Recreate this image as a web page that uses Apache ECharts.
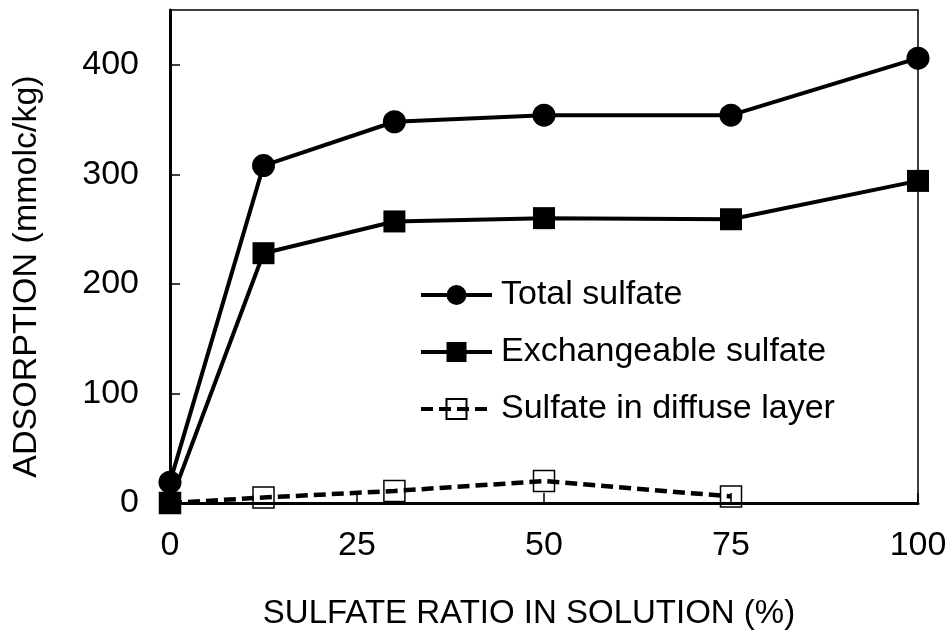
<!DOCTYPE html>
<html>
<head>
<meta charset="utf-8">
<script src="https://cdn.jsdelivr.net/npm/echarts@6/dist/echarts.min.js"></script>
<style>html,body{margin:0;padding:0;background:#fff;}#c{width:951px;height:639px;}</style>
</head>
<body>
<div id="c"></div>
<script>
const ratios = [0, 12.5, 30, 50, 75, 100];
const ratiosDiffuse = [0, 12.5, 30, 50, 75];
const totalSulfate = [19, 308, 348, 354, 354, 406];
const exchangeableSulfate = [0, 228, 257, 260, 259, 294];
const diffuseSulfate = [0, 5, 11, 20, 6];
const seriesNames = ['Total sulfate', 'Exchangeable sulfate', 'Sulfate in diffuse layer'];
const xTicks = [0, 25, 50, 75, 100];
const yTicks = [0, 100, 200, 300, 400];

const pair = (xs, ys) => xs.map((x, i) => [x, ys[i]]);
const tickFont = '"Liberation Sans", Arial, sans-serif';
const textFont = '"Liberation Sans", Arial, sans-serif';

const chart = echarts.init(document.getElementById('c'), null, {renderer: 'canvas'});
chart.setOption({
  animation: false,
  backgroundColor: '#fff',
  grid: {left: 170, right: 33, top: 10, bottom: 136, show: true, borderColor: '#000', borderWidth: 1.5, containLabel: false},
  legend: {
    orient: 'vertical', left: 414, top: 273,
    itemWidth: 71, itemHeight: 25, itemGap: 23,
    data: seriesNames,
    lineStyle: {width: 4},
    textStyle: {fontFamily: textFont, fontSize: 34, color: '#000', lineHeight: 34, padding: [0, 0, 0, 4]}
  },
  xAxis: {
    type: 'value', min: 0, max: 100, interval: 25,
    name: 'SULFATE RATIO IN SOLUTION (%)', nameLocation: 'middle', nameGap: 94,
    nameTextStyle: {fontFamily: textFont, fontSize: 33, color: '#000', padding: [0, 30, 0, 0]},
    axisLine: {lineStyle: {color: '#000', width: 3}},
    axisTick: {inside: true, length: 10, lineStyle: {color: '#000', width: 1.5}},
    axisLabel: {margin: 26, fontFamily: tickFont, fontSize: 34, color: '#000',
      formatter: v => xTicks.includes(v) ? String(v) : ''},
    splitLine: {show: false}
  },
  yAxis: {
    type: 'value', min: 0, max: 450, interval: 100,
    name: 'ADSORPTION (mmolc/kg)', nameLocation: 'middle', nameGap: 126,
    nameTextStyle: {fontFamily: textFont, fontSize: 34, color: '#000', padding: [0, 40, 0, 0]},
    axisLine: {lineStyle: {color: '#000', width: 3}},
    axisTick: {inside: true, length: 10, lineStyle: {color: '#000', width: 1.5}},
    axisLabel: {margin: 31, fontFamily: tickFont, fontSize: 34, color: '#000', showMaxLabel: false,
      formatter: v => yTicks.includes(v) ? String(v) : ''},
    splitLine: {show: false}
  },
  series: [
    {
      name: seriesNames[0], type: 'line', data: pair(ratios, totalSulfate), clip: false,
      symbol: 'circle', symbolSize: 23,
      lineStyle: {color: '#000', width: 4}, itemStyle: {color: '#000'}, z: 3
    },
    {
      name: seriesNames[1], type: 'line', data: pair(ratios, exchangeableSulfate), clip: false,
      symbol: 'rect', symbolSize: 22,
      lineStyle: {color: '#000', width: 4}, itemStyle: {color: '#000'}, z: 4
    },
    {
      name: seriesNames[2], type: 'line', data: pair(ratiosDiffuse, diffuseSulfate), clip: false,
      symbol: 'rect', symbolSize: 21,
      lineStyle: {color: '#000', width: 4.5, type: [12, 6]},
      itemStyle: {color: 'rgba(0,0,0,0)', borderColor: '#000', borderWidth: 1.5}, z: 2
    }
  ]
});
</script>
</body>
</html>
